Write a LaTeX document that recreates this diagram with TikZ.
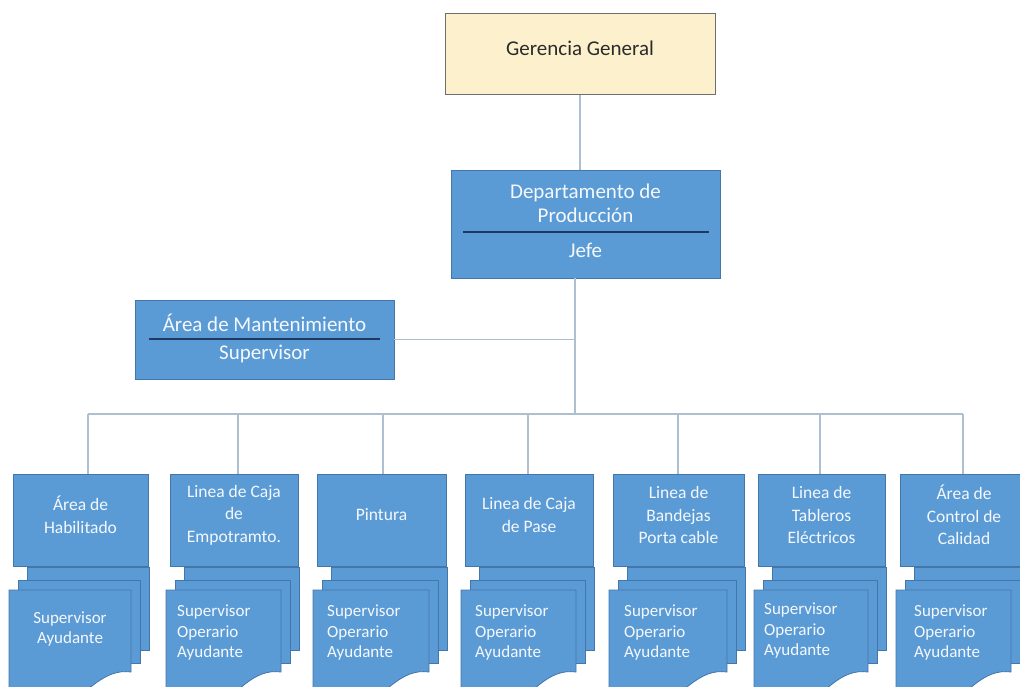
\documentclass[tikz,border=0pt]{standalone}
\usepackage{fontspec}
\setmainfont{Carlito}
\usetikzlibrary{calc}
\definecolor{boxblue}{HTML}{5B9BD5}
\definecolor{boxedge}{HTML}{4476AA}
\definecolor{rulenavy}{HTML}{1F3A60}
\definecolor{linkgray}{HTML}{AEBFD0}
\definecolor{cream}{HTML}{FDF0CD}
\definecolor{creamedge}{HTML}{6E6E6E}
\definecolor{boxtext}{HTML}{F4F8FC}
\definecolor{darktext}{HTML}{2B2B2B}

% one production unit: stacked pages under a titled box
% #1 left edge, #2 right edge, #3 node name, #4 title
\newcommand{\orgunit}[4]{%
  \filldraw[page] (#1+14,567) rectangle (#2+1,650);
  \filldraw[page] (#1+5,580) rectangle (#2-8,663);
  \filldraw[page] (#1-4,590) -- (#2-17,590) -- (#2-17,672)
    .. controls (#2-45,668) and (#2-60,695) .. ({(#1+#2)/2-10},698)
    -- (#1-4,698) -- cycle;
  \node[unitbox, minimum width={#2-#1}] (#3) at ({(#1+#2)/2},520) {};
  \node[unittext] (#3-title) at ({(#1+#2)/2},515) {#4};
}

\begin{document}
\begin{tikzpicture}[x=1pt,y=-1pt,
  unitbox/.style={rectangle, draw=boxedge, fill=boxblue, line width=0.8pt,
    minimum height=92pt, inner sep=0pt},
  page/.style={draw=boxedge, fill=boxblue, line width=0.8pt},
  link/.style={draw=linkgray, line width=1.3pt},
  headtext/.style={text=boxtext, font=\fontsize{21}{23.5}\selectfont, align=center, inner sep=0pt},
  unittext/.style={text=boxtext, font=\fontsize{17.5}{22.5}\selectfont, align=center, inner sep=0pt},
  stafftext/.style={text=boxtext, font=\fontsize{17}{20.5}\selectfont, align=left, inner sep=0pt, anchor=west},
  sepline/.style={draw=rulenavy, line width=2pt}]

\useasboundingbox (0,0) rectangle (1020,687);
\fill[white] (0,0) rectangle (1020,687);
\clip (0,0) rectangle (1020,687);

% top management
\node[rectangle, draw=creamedge, fill=cream, line width=1pt, minimum width=270pt,
  minimum height=81pt, inner sep=0pt] (gg) at (580,54.5) {};
\node[text=darktext, font=\fontsize{21}{23.5}\selectfont, inner sep=0pt] (gg-label) at (580,48) {Gerencia General};

% production department
\node[unitbox, minimum width=269pt, minimum height=108pt] (dp) at (585.5,224) {};
\node[headtext] (dp-title) at (585.5,203.5) {Departamento de\\Producción};
\draw[sepline] (463,232) -- (709,232);
\node[headtext] (dp-head) at (585.5,250) {Jefe};

% maintenance area
\node[unitbox, minimum width=259pt, minimum height=79pt] (mt) at (264.5,339.5) {};
\node[headtext] (mt-title) at (264.5,323) {Área de Mantenimiento};
\draw[sepline] (149,339) -- (380,339);
\node[headtext] (mt-head) at (264.5,354) {Supervisor};

% production units
\orgunit{13}{148}{u1}{Área de\\Habilitado}
\orgunit{170}{298}{u2}{Linea de Caja\\de\\Empotramto.}
\orgunit{317}{446}{u3}{Pintura}
\orgunit{465}{593}{u4}{Linea de Caja\\de Pase}
\orgunit{613}{744}{u5}{Linea de\\Bandejas\\Porta cable}
\orgunit{758}{885}{u6}{Linea de\\Tableros\\Eléctricos}
\orgunit{900}{1028}{u7}{Área de\\Control de\\Calidad}

\node[stafftext, anchor=center, align=center] (s1) at (70,629) {Supervisor\\Ayudante};
\node[stafftext] (s2) at (177,633) {Supervisor\\Operario\\Ayudante};
\node[stafftext] (s3) at (327,633) {Supervisor\\Operario\\Ayudante};
\node[stafftext] (s4) at (475,633) {Supervisor\\Operario\\Ayudante};
\node[stafftext] (s5) at (624,633) {Supervisor\\Operario\\Ayudante};
\node[stafftext] (s6) at (764,631) {Supervisor\\Operario\\Ayudante};
\node[stafftext] (s7) at (914,633) {Supervisor\\Operario\\Ayudante};

% connectors
\coordinate (hub) at (575,414);
\coordinate (d1) at (88,414);
\coordinate (d2) at (238,414);
\coordinate (d3) at (383,414);
\coordinate (d4) at (528,414);
\coordinate (d5) at (678,414);
\coordinate (d6) at (820,414);
\coordinate (d7) at (963,414);

\draw[link] (gg.south) -- (gg.south |- dp.north);
\draw[link] (hub |- dp.south) -- (hub);
\draw[link] (mt.east) -- (mt.east -| hub);
\draw[link] (d1) -- (d7);
\foreach \k in {1,...,7}{
  \draw[link] (d\k) -- (d\k |- u\k.north);
}
\end{tikzpicture}
\end{document}
